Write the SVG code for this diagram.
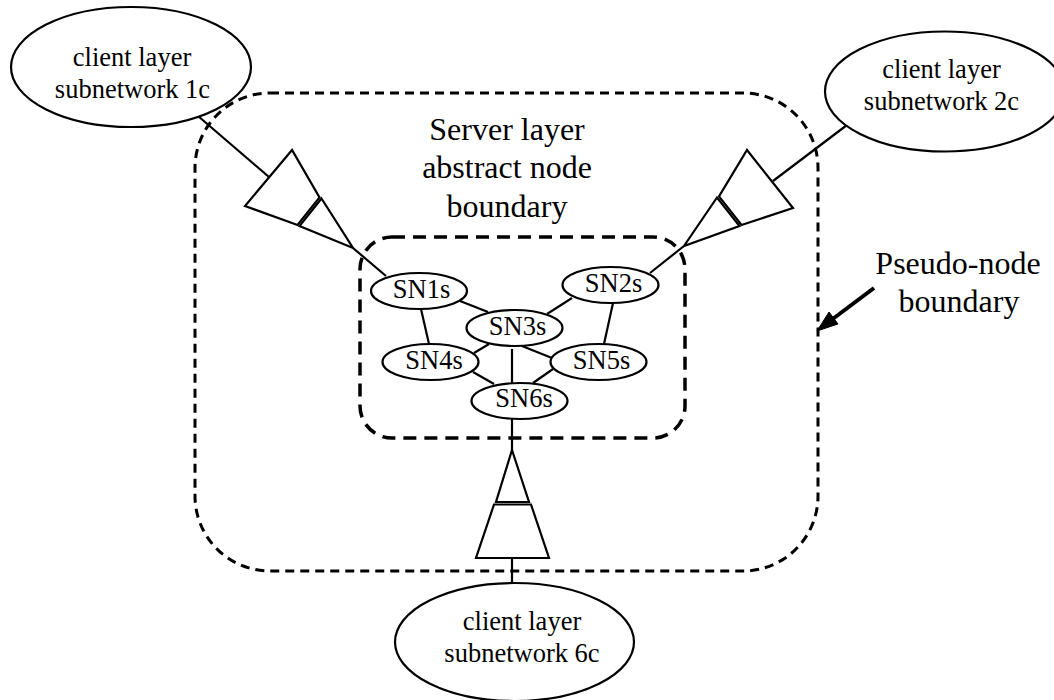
<svg xmlns="http://www.w3.org/2000/svg" width="1054" height="700" viewBox="0 0 1054 700">
<style>
text{font-family:"Liberation Serif","Times New Roman",serif;fill:#000;text-anchor:middle}
.c{font-size:26.500px}.s{font-size:26.500px}.b{font-size:32px}
ellipse,polygon{fill:#fff;stroke:#000;stroke-width:2.200}
line{stroke:#000;stroke-width:2.200}
.o{fill:none;stroke:#000;stroke-width:3;stroke-dasharray:9 6}
.i{fill:none;stroke:#000;stroke-width:3.500;stroke-dasharray:13 8}
</style>
<rect width="1054" height="700" fill="#fff"/>
<g id="boundaries">
<rect class="o" x="195" y="93" width="623" height="478" rx="75" ry="75"/>
<rect class="i" x="360" y="237" width="325" height="201" rx="32" ry="32"/>
</g>
<g id="connectors">
<line x1="198" y1="116" x2="269" y2="177"/>
<line x1="353" y1="248" x2="386" y2="276"/>
<line x1="847" y1="125" x2="773" y2="181"/>
<line x1="684" y1="246" x2="650" y2="273"/>
<line x1="512" y1="418" x2="512" y2="450"/>
<line x1="512" y1="558" x2="512" y2="583"/>
<line x1="460" y1="301" x2="488" y2="312"/>
<line x1="572" y1="298" x2="547" y2="314"/>
<line x1="421" y1="309" x2="429" y2="344"/>
<line x1="613" y1="303" x2="604" y2="344"/>
<line x1="489" y1="344" x2="474" y2="353"/>
<line x1="522" y1="346" x2="552" y2="358"/>
<line x1="512" y1="349" x2="512" y2="384"/>
<line x1="473" y1="372" x2="494" y2="384"/>
<line x1="553" y1="369" x2="533" y2="383"/>
<line x1="874" y1="288" x2="826" y2="324" style="stroke-width:4"/>
<polygon points="817,331 829,312 838,324" style="fill:#000;stroke-width:1"/>
</g>
<g id="adapter1">
<polygon points="292,150 245,206 297.500,225 319.500,197.500"/>
<polygon points="321.500,198.500 353,248 299.500,226"/>
</g>
<g id="adapter2">
<polygon points="747,150 793,208 741.500,225 719,196.500"/>
<polygon points="717,197.500 684,246 739.500,226"/>
</g>
<g id="adapter6">
<polygon points="512,450 529,502 496,502"/>
<polygon points="494,504.500 531,504.500 549,558 476,558"/>
</g>
<g id="client1"><ellipse cx="131" cy="67" rx="120" ry="60"/><text class="c" x="132" y="66">client layer</text><text class="c" x="132.500" y="98">subnetwork 1c</text></g>
<g id="client2"><ellipse cx="945" cy="91.500" rx="120" ry="60"/><text class="c" x="941.500" y="78">client layer</text><text class="c" x="941.500" y="110">subnetwork 2c</text></g>
<g id="client6"><ellipse cx="514.500" cy="642" rx="119.500" ry="59"/><text class="c" x="522" y="630">client layer</text><text class="c" x="522" y="662">subnetwork 6c</text></g>
<g id="sn1"><ellipse cx="419" cy="291" rx="48" ry="18"/><text class="s" x="421.500" y="298">SN1s</text></g>
<g id="sn2"><ellipse cx="610.500" cy="285" rx="48" ry="18"/><text class="s" x="613.500" y="292">SN2s</text></g>
<g id="sn3"><ellipse cx="514.500" cy="328" rx="48" ry="18"/><text class="s" x="517.500" y="335">SN3s</text></g>
<g id="sn4"><ellipse cx="430.500" cy="362" rx="48" ry="18"/><text class="s" x="434" y="369">SN4s</text></g>
<g id="sn5"><ellipse cx="598.500" cy="362" rx="48" ry="18"/><text class="s" x="601.500" y="369">SN5s</text></g>
<g id="sn6"><ellipse cx="519.500" cy="401" rx="48" ry="18"/><text class="s" x="524" y="407">SN6s</text></g>
<g id="labels">
<text class="b" x="507" y="140">Server layer</text>
<text class="b" x="507" y="178">abstract node</text>
<text class="b" x="507" y="217">boundary</text>
<text class="b" x="958" y="274">Pseudo-node</text>
<text class="b" x="959" y="312">boundary</text>
</g>
</svg>
